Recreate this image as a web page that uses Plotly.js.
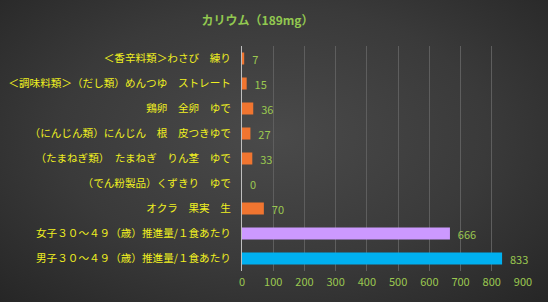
<!DOCTYPE html>
<html><head><meta charset="utf-8">
<script src="https://cdn.plot.ly/plotly-3.0.1.min.js"></script>
<style>
html,body{margin:0;padding:0;}
body{width:548px;height:302px;background:radial-gradient(ellipse at 50% 45%, #4a4a4a 0%, #3a3a3a 55%, #262626 100%);}
#chart{width:548px;height:302px;}
</style></head>
<body><div id="chart"></div>
<script>
const categories = [
  "＜香辛料類＞わさび　練り",
  "＜調味料類＞（だし類）めんつゆ　ストレート",
  "鶏卵　全卵　ゆで",
  "（にんじん類）にんじん　根　皮つきゆで",
  "（たまねぎ類）　たまねぎ　りん茎　ゆで",
  "（でん粉製品）くずきり　ゆで",
  "オクラ　果実　生",
  "女子３０～４９（歳）推進量/１食あたり",
  "男子３０～４９（歳）推進量/１食あたり"
];
const values = [7, 15, 36, 27, 33, 0, 70, 666, 833];
const barColors = ["#F07530","#F07530","#F07530","#F07530","#F07530","#F07530","#F07530","#CC99FF","#00B0F0"];
const xTicks = [0,100,200,300,400,500,600,700,800,900];

const trace = {
  type: "bar",
  orientation: "h",
  y: categories,
  x: values,
  marker: {color: barColors},
  width: 0.48,
  text: values.map(v => "  " + v),
  texttemplate: "%{text}",
  textposition: "outside",
  constraintext: "none",
  cliponaxis: false,
  textfont: {color: "#9BC850", size: 11, family: "Noto Sans CJK JP, sans-serif"},
  hoverinfo: "none"
};
const layout = {
  width: 548, height: 302,
  paper_bgcolor: "rgba(0,0,0,0)",
  plot_bgcolor: "rgba(0,0,0,0)",
  margin: {l: 242, r: 25, t: 46, b: 31},
  showlegend: false,
  font: {family: "Noto Sans CJK JP, sans-serif"},
  title: {text: "<b>カリウム（189mg）</b>", x: 0.47, xanchor: "center", y: 0.93, yanchor: "middle",
          font: {color: "#92C850", size: 12, family: "Noto Sans CJK JP, sans-serif"}},
  xaxis: {range: [0, 900], tickvals: xTicks, ticktext: xTicks.map(String), showgrid: true,
          gridcolor: "#5e5e5e", gridwidth: 1, zeroline: false, showline: false,
          ticklabelstandoff: 3,
          tickfont: {color: "#9BC850", size: 11}, ticks: ""},
  yaxis: {autorange: "reversed", type: "category", showgrid: false, showline: true,
          linecolor: "#bfbfbf", linewidth: 1, ticks: "", ticklabelstandoff: 8,
          tickfont: {color: "#F0F020", size: 10.6}}
};
Plotly.newPlot("chart", [trace], layout, {staticPlot: true});
</script></body></html>
